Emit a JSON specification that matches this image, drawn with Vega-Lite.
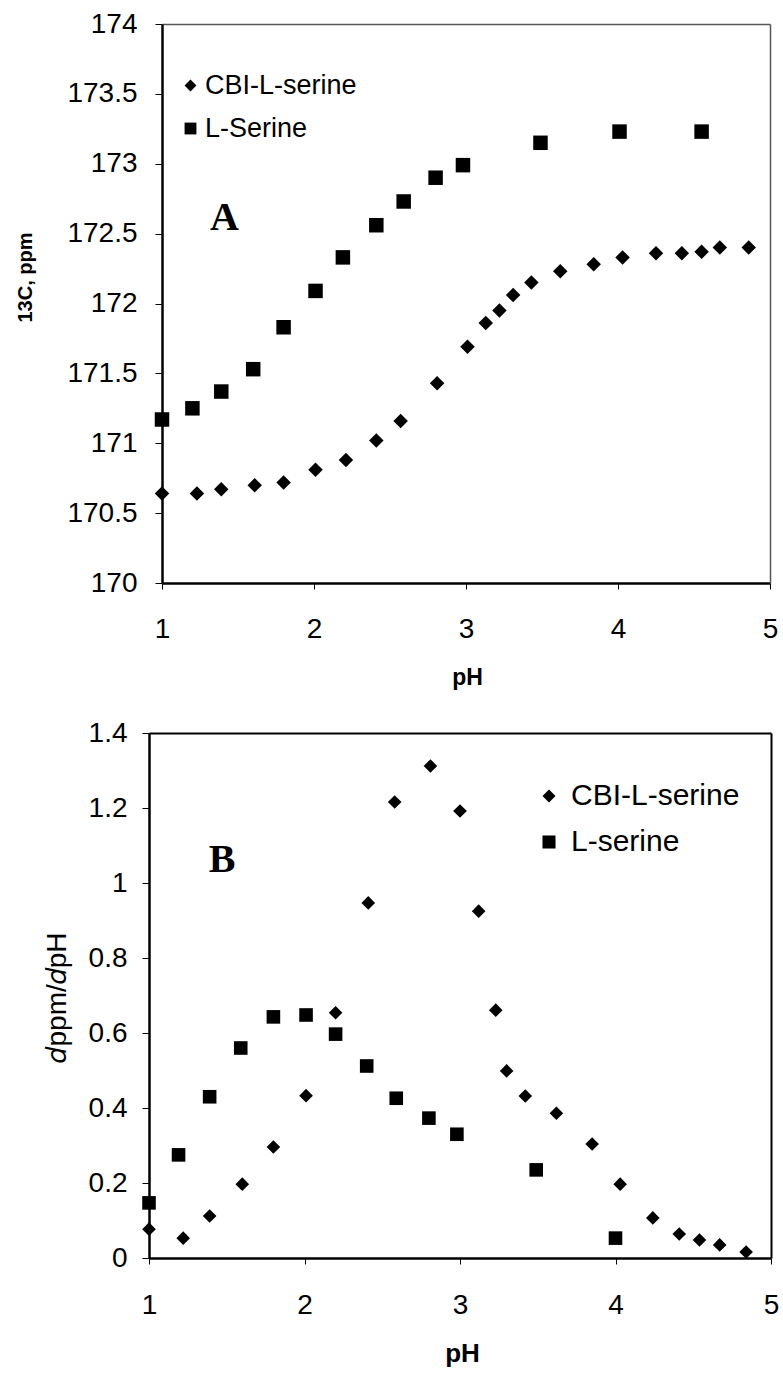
{
  "$schema": "https://vega.github.io/schema/vega-lite/v6.json",
  "background": "white",
  "padding": {"left": 15, "top": 10, "right": 5, "bottom": 5},
  "config": {"view": {"stroke": null}, "font": "Liberation Sans", "axis": {"grid": false}},
  "spacing": 30,
  "resolve": {"scale": {"shape": "independent"}, "legend": {"shape": "independent"}},
  "datasets": {
    "a": [
      {"ph": 1.0, "v": 170.64, "series": "CBI-L-serine"},
      {"ph": 1.23, "v": 170.64, "series": "CBI-L-serine"},
      {"ph": 1.39, "v": 170.67, "series": "CBI-L-serine"},
      {"ph": 1.61, "v": 170.70, "series": "CBI-L-serine"},
      {"ph": 1.80, "v": 170.72, "series": "CBI-L-serine"},
      {"ph": 2.01, "v": 170.81, "series": "CBI-L-serine"},
      {"ph": 2.21, "v": 170.88, "series": "CBI-L-serine"},
      {"ph": 2.41, "v": 171.02, "series": "CBI-L-serine"},
      {"ph": 2.57, "v": 171.16, "series": "CBI-L-serine"},
      {"ph": 2.81, "v": 171.43, "series": "CBI-L-serine"},
      {"ph": 3.01, "v": 171.69, "series": "CBI-L-serine"},
      {"ph": 3.13, "v": 171.86, "series": "CBI-L-serine"},
      {"ph": 3.22, "v": 171.95, "series": "CBI-L-serine"},
      {"ph": 3.31, "v": 172.06, "series": "CBI-L-serine"},
      {"ph": 3.43, "v": 172.15, "series": "CBI-L-serine"},
      {"ph": 3.62, "v": 172.23, "series": "CBI-L-serine"},
      {"ph": 3.84, "v": 172.28, "series": "CBI-L-serine"},
      {"ph": 4.03, "v": 172.33, "series": "CBI-L-serine"},
      {"ph": 4.25, "v": 172.36, "series": "CBI-L-serine"},
      {"ph": 4.42, "v": 172.36, "series": "CBI-L-serine"},
      {"ph": 4.55, "v": 172.37, "series": "CBI-L-serine"},
      {"ph": 4.67, "v": 172.40, "series": "CBI-L-serine"},
      {"ph": 4.86, "v": 172.40, "series": "CBI-L-serine"},
      {"ph": 1.0, "v": 171.17, "series": "L-Serine"},
      {"ph": 1.2, "v": 171.25, "series": "L-Serine"},
      {"ph": 1.39, "v": 171.37, "series": "L-Serine"},
      {"ph": 1.6, "v": 171.53, "series": "L-Serine"},
      {"ph": 1.8, "v": 171.83, "series": "L-Serine"},
      {"ph": 2.01, "v": 172.09, "series": "L-Serine"},
      {"ph": 2.19, "v": 172.33, "series": "L-Serine"},
      {"ph": 2.41, "v": 172.56, "series": "L-Serine"},
      {"ph": 2.59, "v": 172.73, "series": "L-Serine"},
      {"ph": 2.8, "v": 172.90, "series": "L-Serine"},
      {"ph": 2.98, "v": 172.99, "series": "L-Serine"},
      {"ph": 3.49, "v": 173.15, "series": "L-Serine"},
      {"ph": 4.01, "v": 173.23, "series": "L-Serine"},
      {"ph": 4.55, "v": 173.23, "series": "L-Serine"}
    ],
    "b": [
      {"ph": 1.0, "v": 0.077, "series": "CBI-L-serine"},
      {"ph": 1.22, "v": 0.053, "series": "CBI-L-serine"},
      {"ph": 1.39, "v": 0.112, "series": "CBI-L-serine"},
      {"ph": 1.60, "v": 0.197, "series": "CBI-L-serine"},
      {"ph": 1.80, "v": 0.296, "series": "CBI-L-serine"},
      {"ph": 2.01, "v": 0.433, "series": "CBI-L-serine"},
      {"ph": 2.20, "v": 0.654, "series": "CBI-L-serine"},
      {"ph": 2.41, "v": 0.947, "series": "CBI-L-serine"},
      {"ph": 2.58, "v": 1.216, "series": "CBI-L-serine"},
      {"ph": 2.81, "v": 1.312, "series": "CBI-L-serine"},
      {"ph": 3.0, "v": 1.192, "series": "CBI-L-serine"},
      {"ph": 3.12, "v": 0.925, "series": "CBI-L-serine"},
      {"ph": 3.23, "v": 0.661, "series": "CBI-L-serine"},
      {"ph": 3.30, "v": 0.499, "series": "CBI-L-serine"},
      {"ph": 3.42, "v": 0.432, "series": "CBI-L-serine"},
      {"ph": 3.62, "v": 0.386, "series": "CBI-L-serine"},
      {"ph": 3.85, "v": 0.304, "series": "CBI-L-serine"},
      {"ph": 4.03, "v": 0.197, "series": "CBI-L-serine"},
      {"ph": 4.24, "v": 0.107, "series": "CBI-L-serine"},
      {"ph": 4.41, "v": 0.064, "series": "CBI-L-serine"},
      {"ph": 4.54, "v": 0.048, "series": "CBI-L-serine"},
      {"ph": 4.67, "v": 0.035, "series": "CBI-L-serine"},
      {"ph": 4.84, "v": 0.016, "series": "CBI-L-serine"},
      {"ph": 1.0, "v": 0.147, "series": "L-serine"},
      {"ph": 1.19, "v": 0.275, "series": "L-serine"},
      {"ph": 1.39, "v": 0.43, "series": "L-serine"},
      {"ph": 1.59, "v": 0.56, "series": "L-serine"},
      {"ph": 1.80, "v": 0.643, "series": "L-serine"},
      {"ph": 2.01, "v": 0.648, "series": "L-serine"},
      {"ph": 2.20, "v": 0.597, "series": "L-serine"},
      {"ph": 2.40, "v": 0.512, "series": "L-serine"},
      {"ph": 2.59, "v": 0.426, "series": "L-serine"},
      {"ph": 2.80, "v": 0.373, "series": "L-serine"},
      {"ph": 2.98, "v": 0.33, "series": "L-serine"},
      {"ph": 3.49, "v": 0.235, "series": "L-serine"},
      {"ph": 4.0, "v": 0.053, "series": "L-serine"}
    ],
    "la": [{"ph": 1.41, "v": 172.61, "t": "A"}],
    "lb": [{"ph": 1.47, "v": 1.061, "t": "B"}]
  },
  "vconcat": [
    {
      "width": 608,
      "height": 559,
      "view": {"stroke": null},
      "resolve": {"axis": {"x": "independent", "y": "independent"}},
      "layer": [
        {
          "data": {"name": "a"},
          "mark": {"type": "point", "filled": true, "color": "black", "opacity": 1, "strokeWidth": 0, "size": 210},
          "encoding": {
            "x": {"field": "ph", "type": "quantitative",
              "scale": {"domain": [1, 5], "nice": false, "zero": false},
              "axis": {"orient": "bottom", "values": [1, 2, 3, 4, 5], "format": "d", "labelFont": "Liberation Sans", "labelFontSize": 28, "labelColor": "black", "labelPadding": 26, "tickSize": 6, "tickColor": "black", "domainColor": "black", "domainWidth": 2.5, "labelFlush": false, "labelOverlap": false,
                "title": "pH", "titleFont": "Liberation Sans", "titleFontSize": 23, "titleFontWeight": "bold", "titleColor": "black", "titleY": 94, "titleX": 305, "titleBaseline": "middle"}},
            "y": {"field": "v", "type": "quantitative",
              "scale": {"domain": [170, 174], "nice": false, "zero": false},
              "axis": {"orient": "left", "values": [170, 170.5, 171, 171.5, 172, 172.5, 173, 173.5, 174], "format": "~g", "labelFont": "Liberation Sans", "labelFontSize": 28, "labelColor": "black", "labelPadding": 18, "tickSize": 7, "tickColor": "black", "domainColor": "black", "domainWidth": 2.5, "labelFlush": false, "labelOverlap": false,
                "title": "13C, ppm", "titleFont": "Liberation Sans", "titleFontSize": 20, "titleFontWeight": "bold", "titleColor": "black", "titleX": -137, "titleY": 253, "titleAngle": -90, "titleBaseline": "middle", "titleAlign": "center"}},
            "shape": {"field": "series", "type": "nominal",
              "scale": {"domain": ["CBI-L-serine", "L-Serine"], "range": ["diamond", "square"]},
              "legend": {"orient": "none", "legendX": 15, "legendY": 48, "title": null, "padding": 0, "labelFont": "Liberation Sans", "labelFontSize": 27, "labelColor": "black", "labelOffset": 1, "labelLimit": 400, "symbolSize": 140, "symbolFillColor": "black", "symbolStrokeColor": "black", "symbolStrokeWidth": 0, "rowPadding": 15}}
          }
        },
        {
          "data": {"name": "la"},
          "mark": {"type": "text", "font": "Liberation Serif", "fontWeight": "bold", "fontSize": 40, "color": "black", "align": "center", "baseline": "middle"},
          "encoding": {
            "x": {"field": "ph", "type": "quantitative", "axis": {"orient": "top", "labels": false, "ticks": false, "title": null, "domainColor": "#555", "domainWidth": 1.5}},
            "y": {"field": "v", "type": "quantitative", "axis": {"orient": "right", "labels": false, "ticks": false, "title": null, "domainColor": "#555", "domainWidth": 1.5}},
            "text": {"field": "t"}
          }
        }
      ]
    },
    {
      "width": 609,
      "height": 525,
      "view": {"stroke": null},
      "resolve": {"axis": {"x": "independent", "y": "independent"}},
      "layer": [
        {
          "data": {"name": "b"},
          "mark": {"type": "point", "filled": true, "color": "black", "opacity": 1, "strokeWidth": 0, "size": 185},
          "encoding": {
            "x": {"field": "ph", "type": "quantitative",
              "scale": {"domain": [1, 5], "range": [-13, 609], "nice": false, "zero": false},
              "axis": {"orient": "bottom", "values": [1, 2, 3, 4, 5], "format": "d", "labelFont": "Liberation Sans", "labelFontSize": 28, "labelColor": "black", "labelPadding": 27, "tickSize": 6, "tickColor": "black", "domainColor": "black", "domainWidth": 2.5, "labelFlush": false, "labelOverlap": false,
                "title": "pH", "titleFont": "Liberation Sans", "titleFontSize": 26, "titleFontWeight": "bold", "titleColor": "black", "titleY": 95, "titleX": 300, "titleBaseline": "middle"}},
            "y": {"field": "v", "type": "quantitative",
              "scale": {"domain": [0, 1.4], "nice": false, "zero": false},
              "axis": {"orient": "left", "offset": 13, "values": [0, 0.2, 0.4, 0.6, 0.8, 1, 1.2, 1.4], "format": "~g", "labelFont": "Liberation Sans", "labelFontSize": 28, "labelColor": "black", "labelPadding": 15, "tickSize": 7, "tickColor": "black", "domainColor": "black", "domainWidth": 2.5, "labelFlush": false, "labelOverlap": false,
                "title": "𝑑ppm/𝑑pH", "titleFont": "Liberation Sans", "titleFontSize": 28, "titleFontWeight": "normal", "titleColor": "black", "titleX": -92, "titleY": 264, "titleAngle": -90, "titleBaseline": "middle", "titleAlign": "center"}},
            "shape": {"field": "series", "type": "nominal",
              "scale": {"domain": ["CBI-L-serine", "L-serine"], "range": ["diamond", "square"]},
              "legend": {"orient": "none", "legendX": 372, "legendY": 48, "title": null, "padding": 0, "labelFont": "Liberation Sans", "labelFontSize": 30, "labelColor": "black", "labelOffset": 7, "labelLimit": 400, "symbolSize": 170, "symbolFillColor": "black", "symbolStrokeColor": "black", "symbolStrokeWidth": 0, "rowPadding": 16}}
          }
        },
        {
          "data": {"name": "lb"},
          "mark": {"type": "text", "font": "Liberation Serif", "fontWeight": "bold", "fontSize": 40, "color": "black", "align": "center", "baseline": "middle"},
          "encoding": {
            "x": {"field": "ph", "type": "quantitative", "axis": {"orient": "top", "labels": false, "ticks": false, "title": null, "domainColor": "black", "domainWidth": 2}},
            "y": {"field": "v", "type": "quantitative", "axis": {"orient": "right", "labels": false, "ticks": false, "title": null, "domainColor": "black", "domainWidth": 2}},
            "text": {"field": "t"}
          }
        }
      ]
    }
  ]
}
